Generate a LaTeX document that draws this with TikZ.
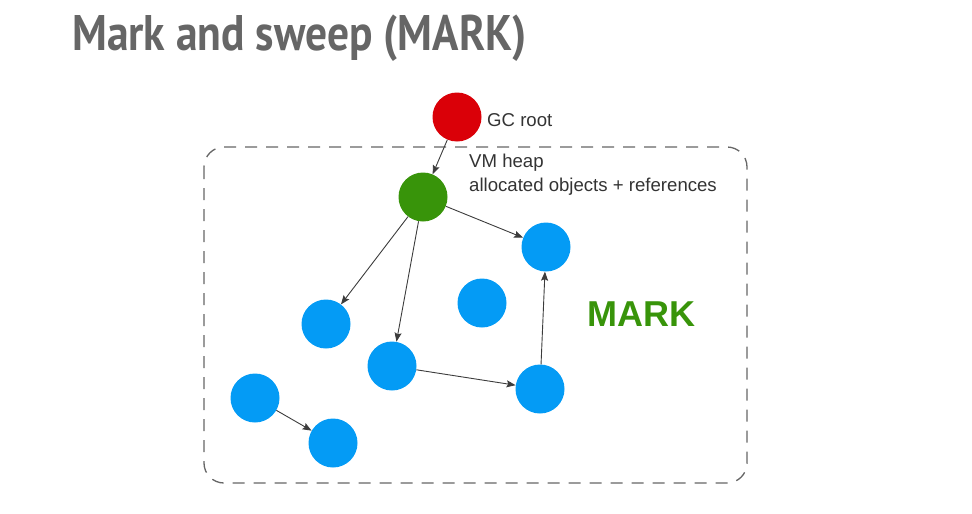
\documentclass[tikz,border=0pt]{standalone}
\usepackage{fontspec}
\setmainfont{Liberation Sans}
\newfontfamily\titlefont[FakeStretch=0.87]{PT Sans}
\usetikzlibrary{arrows.meta}
\definecolor{rootRed}{RGB}{218,0,8}
\definecolor{liveGreen}{RGB}{56,148,10}
\definecolor{objBlue}{RGB}{4,155,245}
\definecolor{textGrey}{RGB}{102,102,102}
\definecolor{lineGrey}{RGB}{60,60,60}
\begin{document}
\begin{tikzpicture}
[refDecorate/.style={-{Stealth[length=9pt,width=7pt,inset=1.5pt]},line width=0.9pt,draw=lineGrey},%
  objDecorate/.style={shape=circle,inner sep=0pt,minimum size=49pt},
  heapDecorate/.style={draw=textGrey,line width=1.3pt,dash pattern=on 12pt off 9pt,rounded corners=20pt},
  labelDecorate/.style={anchor=base west,inner sep=0pt,text=black!80,font=\fontsize{18.6}{22}\selectfont},
  x=1pt,y=-1pt]
\useasboundingbox (0,0) rectangle (972,514);
%% title
\node (title) at (72,50) [anchor=base west,inner sep=0pt,text=textGrey,
  font=\titlefont\bfseries\fontsize{50}{60}\selectfont] {Mark and sweep (MARK)};
%% heap border
\draw[heapDecorate] (204,147) rectangle (747,483);
%% objects
\foreach \nodename/\x/\y/\colour in {
  root/457/117/rootRed, live/423/197/liveGreen,
  1/546/247/objBlue, 2/482/303/objBlue, 3/326/324/objBlue, 4/392/366/objBlue,
  5/540/389/objBlue, 6/255/398/objBlue, 7/333/443/objBlue}
{
  \node (\nodename) at (\x,\y) [objDecorate,fill=\colour] {};
}
%% labels
\node (rootLabel) at (487,126) [labelDecorate] {GC root};
\node (heapLabel) at (469,167) [labelDecorate] {VM heap};
\node (heapNote) at (469,191) [labelDecorate] {allocated objects + references};
\node (markLabel) at (587,326) [anchor=base west,inner sep=0pt,text=liveGreen,
  font=\bfseries\fontsize{36}{42}\selectfont] {MARK};
%% references
\path
\foreach \startnode/\endnode in {
  root/live, live/1, live/3, live/4, 4/5, 5/1, 6/7}
{
  (\startnode) edge[refDecorate] (\endnode)
};
\end{tikzpicture}
\end{document}
